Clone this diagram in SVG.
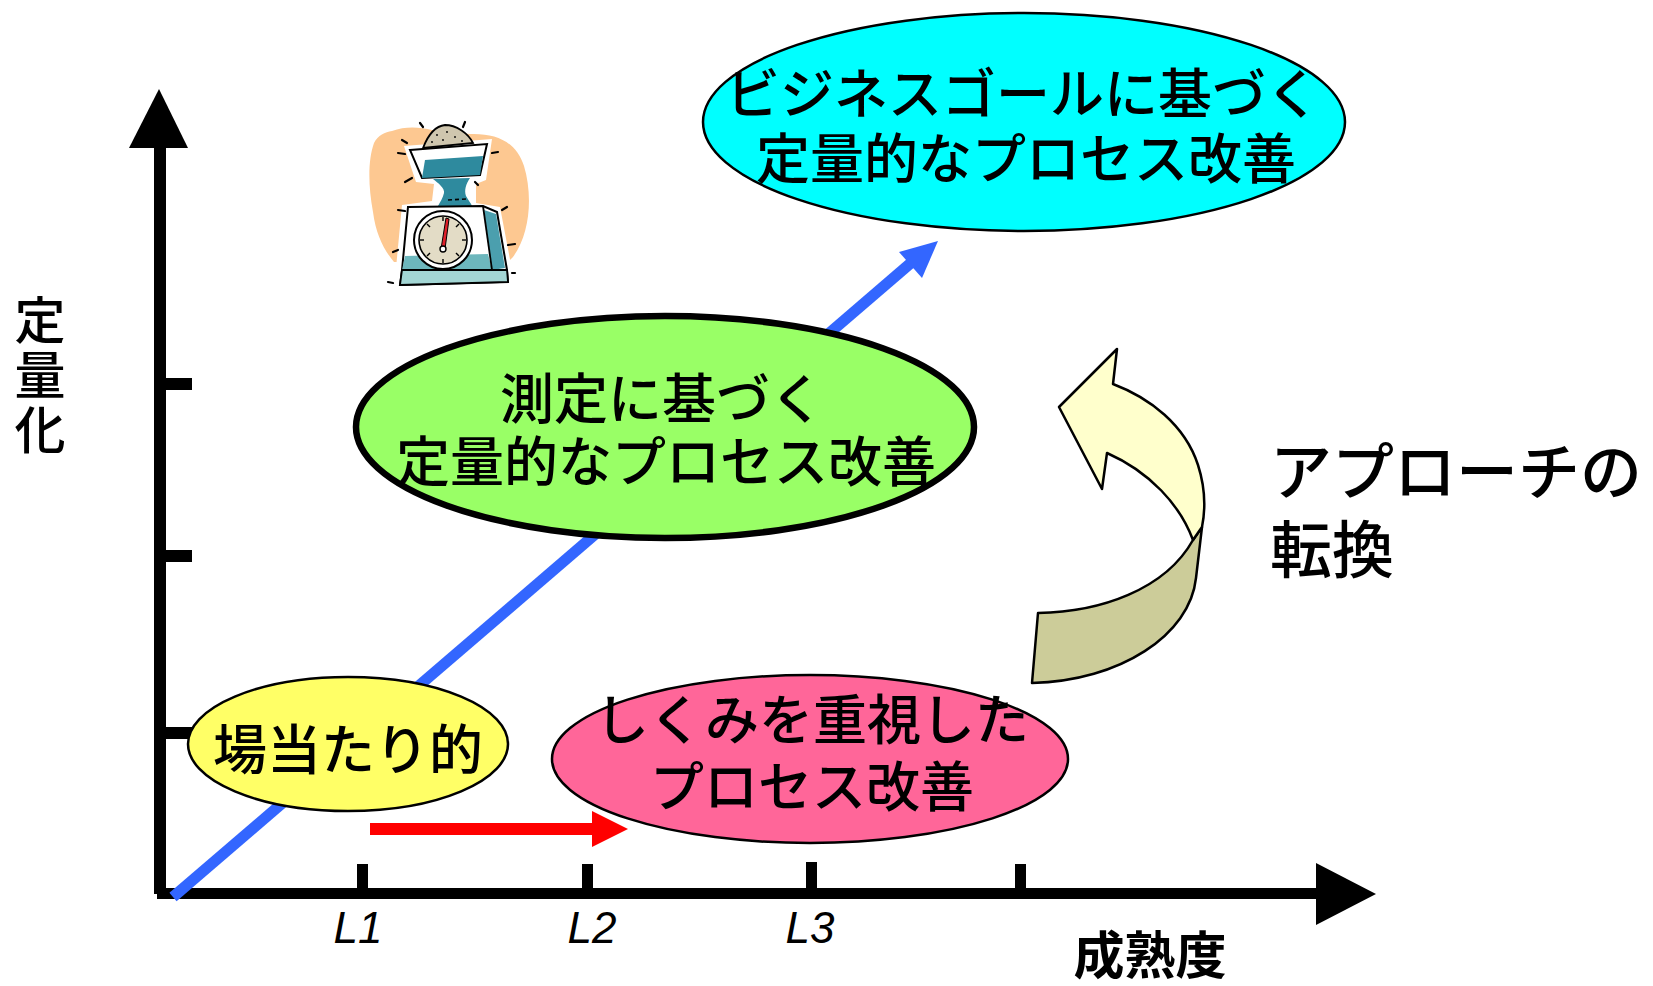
<svg xmlns="http://www.w3.org/2000/svg" width="1653" height="986" viewBox="0 0 1653 986">
  <style>
    .jp { font-family: "Noto Sans CJK JP", "Noto Sans CJK SC", sans-serif; font-weight: 500; fill: #000; }
    .jp.heavy { font-weight: 700; }
    .node-text { font-size: 54px; text-anchor: middle; }
    .lvl { font-family: "Liberation Sans", Arial, sans-serif; font-style: italic; font-size: 44px; text-anchor: middle; fill: #000; }
    .axis { fill: #000; }
    .outline { stroke: #000; stroke-width: 2.5; }
    .dash { stroke: #000; stroke-width: 2.2; stroke-linecap: round; fill: none; }
  </style>

  <rect width="1653" height="986" fill="#fff"/>

  <!-- axes with tick marks -->
  <g id="axes">
    <rect class="axis" x="154" y="146" width="12" height="748"/>
    <polygon class="axis" points="159,89 188,148 129,148"/>
    <rect class="axis" x="157" y="888" width="1163" height="11"/>
    <polygon class="axis" points="1316,863 1376,894 1316,925"/>
    <!-- y ticks -->
    <rect class="axis" x="166" y="378" width="26" height="12"/>
    <rect class="axis" x="166" y="550" width="26" height="12"/>
    <rect class="axis" x="166" y="727" width="26" height="12"/>
    <!-- x ticks -->
    <rect class="axis" x="357" y="864" width="11" height="26"/>
    <rect class="axis" x="582" y="864" width="11" height="26"/>
    <rect class="axis" x="806" y="862" width="11" height="28"/>
    <rect class="axis" x="1015" y="864" width="11" height="26"/>
  </g>

  <!-- axis labels -->
  <g id="axis-labels">
    <text class="lvl" x="358" y="943">L1</text>
    <text class="lvl" x="592" y="943">L2</text>
    <text class="lvl" x="810" y="943">L3</text>
    <text class="jp heavy" x="1150" y="974" font-size="51" text-anchor="middle">成熟度</text>
    <text class="jp" x="40" y="294" font-size="51" writing-mode="vertical-rl" letter-spacing="4">定量化</text>
  </g>

  <!-- arrows -->
  <g id="connectors">
    <!-- rising trend arrow -->
    <line x1="173" y1="897" x2="912" y2="262" stroke="#3366FF" stroke-width="11"/>
    <polygon points="938,241 899,252 922,278" fill="#3366FF"/>
    <!-- short horizontal arrow -->
    <rect x="370" y="823" width="224" height="12" fill="#FF0000"/>
    <polygon points="592,811 628,829 592,847" fill="#FF0000"/>
    <!-- curled block arrow -->
    <g id="shift-arrow" class="outline" stroke-linejoin="round">
      <path d="M 1202,527 L 1196,578 C 1190,635 1120,681 1032,683 L 1038,613 C 1100,612 1165,590 1193,540 Z" fill="#CCCC99"/>
      <path d="M 1107,453 L 1102,489 L 1059,407 L 1117,349 L 1113,384 C 1150,398 1185,425 1198,465 C 1206,490 1205,512 1202,527 L 1193,540 C 1180,505 1150,472 1107,453 Z" fill="#FFFFCC"/>
    </g>
  </g>

  <!-- weighing scale illustration -->
  <g id="scale-clipart">
    <path d="M 392,131 C 405,126 420,127 432,130 L 470,134 C 497,133 516,142 524,166 C 533,196 530,234 513,257 C 503,268 492,266 486,263 L 394,262 C 384,250 376,235 373,212 C 368,185 368,160 374,143 C 378,135 385,132 392,131 Z" fill="#FDC891"/>
    <!-- white halo -->
    <path d="M 404,146 L 492,139 L 486,180 L 476,184 L 476,203 L 500,207 L 512,270 L 513,288 L 395,290 L 396,268 L 402,205 L 432,201 L 434,184 L 416,182 Z" fill="#fff"/>
    <!-- heap -->
    <path d="M 423,148 C 428,135 436,126 445,125 C 456,125 468,133 473,143 Z" fill="#CFC6AE" stroke="#000" stroke-width="1.8"/>
    <g fill="#000">
      <circle cx="437" cy="135" r="0.9"/><circle cx="447" cy="132" r="0.9"/><circle cx="455" cy="137" r="0.9"/>
      <circle cx="443" cy="140" r="0.9"/><circle cx="462" cy="141" r="0.9"/><circle cx="432" cy="142" r="0.9"/>
    </g>
    <!-- bowl -->
    <polygon points="410,150 487,144 480,175 422,178" fill="#fff" stroke="#000" stroke-width="2"/>
    <polygon points="425,160 483,156 480,175 422,178" fill="#2E8A9E"/>
    <!-- neck -->
    <path d="M 433,179 L 470,178 C 466,184 464,190 466,196 C 468,200 471,203 472,206 L 438,206 C 440,202 443,198 444,193 C 445,188 438,183 433,179 Z" fill="#2E8A9E"/>
    <line x1="448" y1="200" x2="466" y2="199" stroke="#000" stroke-width="1.6" stroke-dasharray="4,3"/>
    <!-- housing -->
    <polygon points="408,207 483,206 497,212 507,270 508,282 400,285 402,270" fill="#fff" stroke="#000" stroke-width="2"/>
    <polygon points="484,210 496,214 505,268 492,270" fill="#4B9FAE"/>
    <polygon points="405,256 488,254 492,270 402,270" fill="#6DB7BD"/>
    <polygon points="402,270 507,270 508,282 400,285" fill="#A3D6D4" stroke="#000" stroke-width="1.8"/>
    <line x1="483" y1="206" x2="492" y2="270" stroke="#000" stroke-width="1.8"/>
    <!-- dial -->
    <circle cx="443" cy="240" r="29" fill="#fff" stroke="#000" stroke-width="2"/>
    <circle cx="443" cy="240" r="24" fill="#E3DCC6" stroke="#000" stroke-width="1.6"/>
    <g stroke="#000" stroke-width="1.4">
      <line x1="443" y1="217" x2="443" y2="221"/><line x1="443" y1="259" x2="443" y2="263"/>
      <line x1="420" y1="240" x2="424" y2="240"/><line x1="462" y1="240" x2="466" y2="240"/>
      <line x1="427" y1="224" x2="430" y2="227"/><line x1="459" y1="224" x2="456" y2="227"/>
      <line x1="427" y1="256" x2="430" y2="253"/><line x1="459" y1="256" x2="456" y2="253"/>
    </g>
    <polygon points="446,218 449,219 445,249 441,249" fill="#E0202A" stroke="#000" stroke-width="1"/>
    <circle cx="443" cy="249" r="3" fill="#fff" stroke="#000" stroke-width="1.4"/>
    <!-- motion dashes -->
    <g class="dash">
      <line x1="420" y1="123" x2="423" y2="127"/><line x1="465" y1="122" x2="463" y2="127"/>
      <line x1="402" y1="140" x2="407" y2="143"/><line x1="398" y1="153" x2="405" y2="154"/>
      <line x1="492" y1="153" x2="498" y2="152"/><line x1="405" y1="182" x2="412" y2="178"/>
      <line x1="475" y1="182" x2="478" y2="185"/><line x1="398" y1="210" x2="405" y2="211"/>
      <line x1="502" y1="210" x2="507" y2="207"/><line x1="393" y1="252" x2="398" y2="250"/>
      <line x1="508" y1="245" x2="515" y2="244"/><line x1="388" y1="282" x2="393" y2="283"/>
      <line x1="512" y1="273" x2="515" y2="273"/>
    </g>
  </g>

  <!-- stages -->
  <g id="node-adhoc">
    <ellipse cx="348" cy="744" rx="160" ry="67" fill="#FFFF66" class="outline"/>
    <text class="jp node-text" x="348" y="770">場当たり的</text>
  </g>

  <g id="node-system">
    <ellipse cx="810" cy="759" rx="258" ry="84" fill="#FF6699" class="outline"/>
    <text class="jp node-text" x="812" y="740">しくみを重視した</text>
    <text class="jp node-text" x="812" y="807">プロセス改善</text>
  </g>

  <g id="node-measured">
    <ellipse cx="665" cy="427" rx="309" ry="111" fill="#99FF66" stroke="#000" stroke-width="6.5"/>
    <text class="jp node-text" x="662" y="419">測定に基づく</text>
    <text class="jp node-text" x="666" y="482">定量的なプロセス改善</text>
  </g>

  <g id="node-business">
    <ellipse cx="1024" cy="122" rx="321" ry="109" fill="#00FFFF" class="outline"/>
    <text class="jp node-text" x="1023" y="114">ビジネスゴールに基づく</text>
    <text class="jp node-text" x="1026" y="179">定量的なプロセス改善</text>
  </g>

  <g id="note-shift">
    <text class="jp" font-size="62">
      <tspan x="1270" y="495">アプローチの</tspan>
      <tspan x="1270" y="573">転換</tspan>
    </text>
  </g>
</svg>
